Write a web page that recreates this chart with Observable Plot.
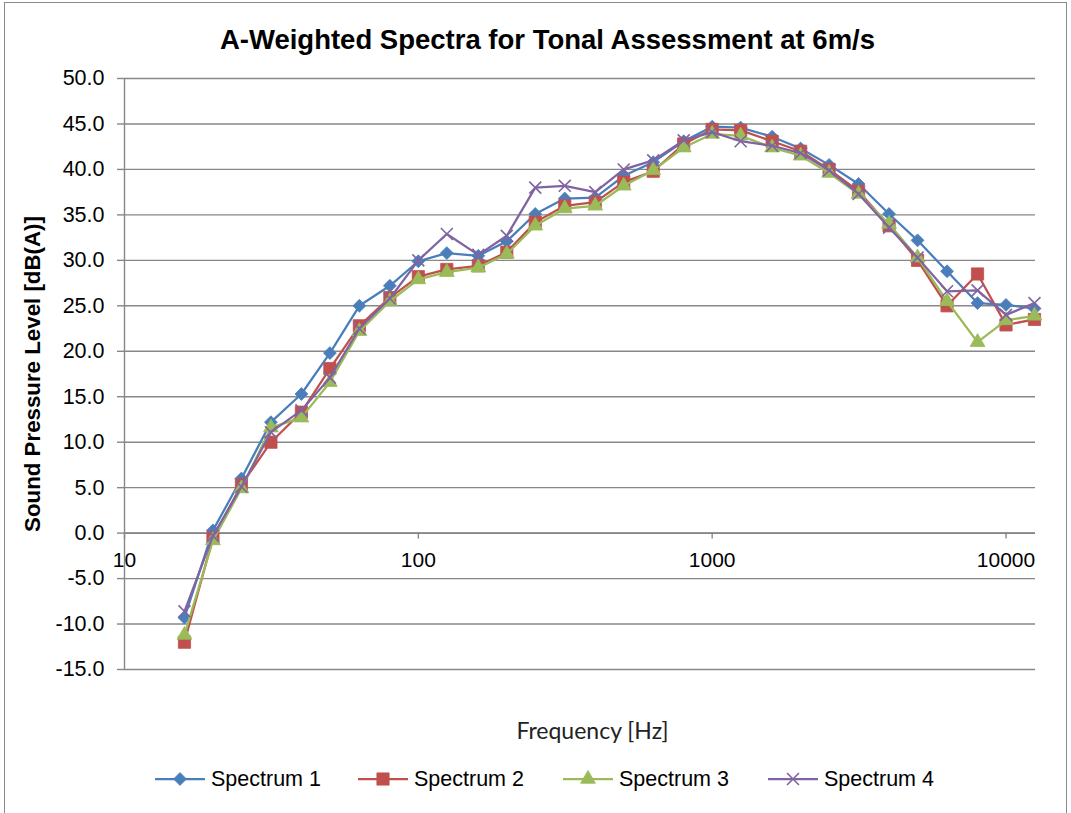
<!DOCTYPE html>
<html>
<head>
<meta charset="utf-8">
<script src="https://cdn.jsdelivr.net/npm/d3@7"></script>
<script src="https://cdn.jsdelivr.net/npm/@observablehq/plot@0.6"></script>
<style>
  html, body { margin: 0; padding: 0; background: #fff; }
  #wrap { position: relative; width: 1071px; height: 813px; overflow: hidden; font-family: "Liberation Sans", Arial, sans-serif; }
  #frame { position: absolute; left: 4px; top: 2px; width: 1063px; height: 830px; border: 1.5px solid #8a8a8a; box-sizing: border-box; }
  #title { position: absolute; left: 12px; top: 25px; width: 1071px; text-align: center; font-weight: bold; font-size: 27.5px; line-height: 30px; color: #000; }
  #chart { position: absolute; left: 0; top: 0; }
  #xlabel { position: absolute; left: 57px; top: 715px; width: 1071px; text-align: center; font-family: Lato, "Open Sans", sans-serif; font-size: 23px; line-height: 30px; color: #222; }
  .leg { position: absolute; top: 767px; height: 24px; display: flex; align-items: center; font-size: 21.5px; color: #000; }
  .leg svg { margin-right: 6px; }
</style>
</head>
<body>
<div id="wrap">
  <div id="frame"></div>
  <div id="chart"></div>
  <div id="title"></div>
  <div id="xlabel"></div>
  <div id="legend"></div>
</div>
<script>
const titleText = "A-Weighted Spectra for Tonal Assessment at 6m/s";
const xLabel = "Frequency [Hz]";
const yLabel = "Sound Pressure Level [dB(A)]";

const freqs = [16, 20, 25, 31.5, 40, 50, 63, 80, 100, 125, 160, 200, 250, 315, 400, 500, 630, 800, 1000, 1250, 1600, 2000, 2500, 3150, 4000, 5000, 6300, 8000, 10000, 12500];

const spectrum1 = [-9.3, 0.3, 6.0, 12.2, 15.3, 19.8, 25.0, 27.2, 29.9, 30.8, 30.5, 32.1, 35.1, 36.8, 36.9, 39.3, 40.8, 43.1, 44.7, 44.6, 43.6, 42.3, 40.5, 38.4, 35.1, 32.2, 28.8, 25.3, 25.1, 24.7];
const spectrum2 = [-12.0, -0.5, 5.3, 10.0, 13.3, 18.1, 22.8, 25.9, 28.2, 29.0, 29.4, 30.9, 34.2, 36.0, 36.4, 38.6, 39.8, 42.8, 44.4, 44.3, 43.1, 42.0, 40.0, 37.6, 33.8, 30.0, 25.0, 28.5, 22.9, 23.5];
const spectrum3 = [-11.2, -0.8, 4.9, 11.6, 12.7, 16.6, 22.2, 25.5, 27.9, 28.7, 29.2, 30.7, 33.8, 35.7, 36.0, 38.2, 39.9, 42.4, 43.9, 43.7, 42.4, 41.5, 39.6, 37.3, 34.0, 30.3, 25.5, 21.0, 23.4, 23.9];
const spectrum4 = [-8.6, -0.3, 5.1, 11.1, 13.5, 17.1, 22.5, 25.8, 30.0, 32.9, 30.6, 32.7, 38.0, 38.2, 37.5, 40.0, 41.0, 43.2, 44.1, 43.1, 42.6, 41.8, 39.9, 37.3, 33.6, 30.3, 26.6, 26.7, 24.0, 25.3];

const seriesNames = ["Spectrum 1", "Spectrum 2", "Spectrum 3", "Spectrum 4"];
const seriesValues = [spectrum1, spectrum2, spectrum3, spectrum4];
const seriesColors = ["#4a7ebb", "#c0504d", "#9bbb59", "#8064a2"];
const seriesSymbols = ["diamond2", "square", "triangle", "times"];
const seriesR = [5.8, 6.9, 5.5, 5.5];

const yTicks = [-15, -10, -5, 0, 5, 10, 15, 20, 25, 30, 35, 40, 45, 50];
const xTicks = [10, 100, 1000, 10000];

const gridColor = "#878787";

const seriesMarks = [];
seriesNames.forEach((name, k) => {
  const data = freqs.map((f, i) => ({ f, v: seriesValues[k][i] }));
  seriesMarks.push(Plot.line(data, { x: "f", y: "v", stroke: seriesColors[k], strokeWidth: 2.25 }));
  const filled = seriesSymbols[k] !== "times";
  seriesMarks.push(Plot.dot(data, {
    x: "f", y: "v", symbol: () => seriesSymbols[k], r: seriesR[k],
    fill: filled ? seriesColors[k] : "none",
    stroke: seriesColors[k], strokeWidth: filled ? 0.8 : 1.6
  }));
});

const chart = Plot.plot({
  width: 1071,
  height: 700,
  marginLeft: 124,
  marginRight: 36,
  marginTop: 78,
  marginBottom: 31,
  x: { type: "log", domain: [10, 12600], axis: null },
  y: { domain: [-15, 50] },
  symbol: { type: "identity" },
  style: { fontFamily: "'Liberation Sans', Arial, sans-serif", fontSize: "21px", background: "transparent", color: "#000" },
  marks: [
    Plot.gridY(yTicks, { stroke: gridColor, strokeOpacity: 1, strokeWidth: 1.4 }),
    Plot.axisY(yTicks, { tickSize: 7, tickPadding: 13, tickFormat: d => d.toFixed(1), stroke: gridColor, strokeWidth: 1.4, fill: "#000", fontSize: 21.5, label: null }),
    Plot.ruleX([10], { stroke: gridColor, strokeWidth: 1.4 }),
    Plot.ruleY([0], { stroke: gridColor, strokeWidth: 1.6 }),
    Plot.ruleX(xTicks, { x: d => d, y1: 0, y2: 0, insetBottom: -6, stroke: gridColor, strokeWidth: 1.4 }),
    Plot.text(xTicks, { x: d => d, y: 0, dy: 27, text: d => String(d), fontSize: 21, fill: "#000" }),
    Plot.text([yLabel], { frameAnchor: "left", dx: -92, rotate: -90, textAnchor: "middle", text: d => d, fontSize: 22.3, fontWeight: "bold", fill: "#000" }),
    ...seriesMarks
  ]
});
document.getElementById("chart").appendChild(chart);
document.getElementById("title").textContent = titleText;
document.getElementById("xlabel").textContent = xLabel;

// legend
const legendLeft = [155, 358, 563, 768];
const legend = document.getElementById("legend");
const symMap = { diamond2: d3.symbolDiamond2, square: d3.symbolSquare, triangle: d3.symbolTriangle, times: d3.symbolTimes };
seriesNames.forEach((name, k) => {
  const item = document.createElement("div");
  item.className = "leg";
  item.style.left = legendLeft[k] + "px";
  const svg = d3.create("svg").attr("width", 50).attr("height", 24);
  svg.append("line").attr("x1", 0).attr("x2", 50).attr("y1", 12).attr("y2", 12)
    .attr("stroke", seriesColors[k]).attr("stroke-width", 2.25);
  const filled = seriesSymbols[k] !== "times";
  svg.append("path")
    .attr("transform", "translate(25,12)")
    .attr("d", d3.symbol(symMap[seriesSymbols[k]], seriesR[k] * seriesR[k] * Math.PI)())
    .attr("fill", filled ? seriesColors[k] : "none")
    .attr("stroke", seriesColors[k])
    .attr("stroke-width", filled ? 0.8 : 1.6);
  item.appendChild(svg.node());
  const span = document.createElement("span");
  span.textContent = name;
  item.appendChild(span);
  legend.appendChild(item);
});
</script>
</body>
</html>
